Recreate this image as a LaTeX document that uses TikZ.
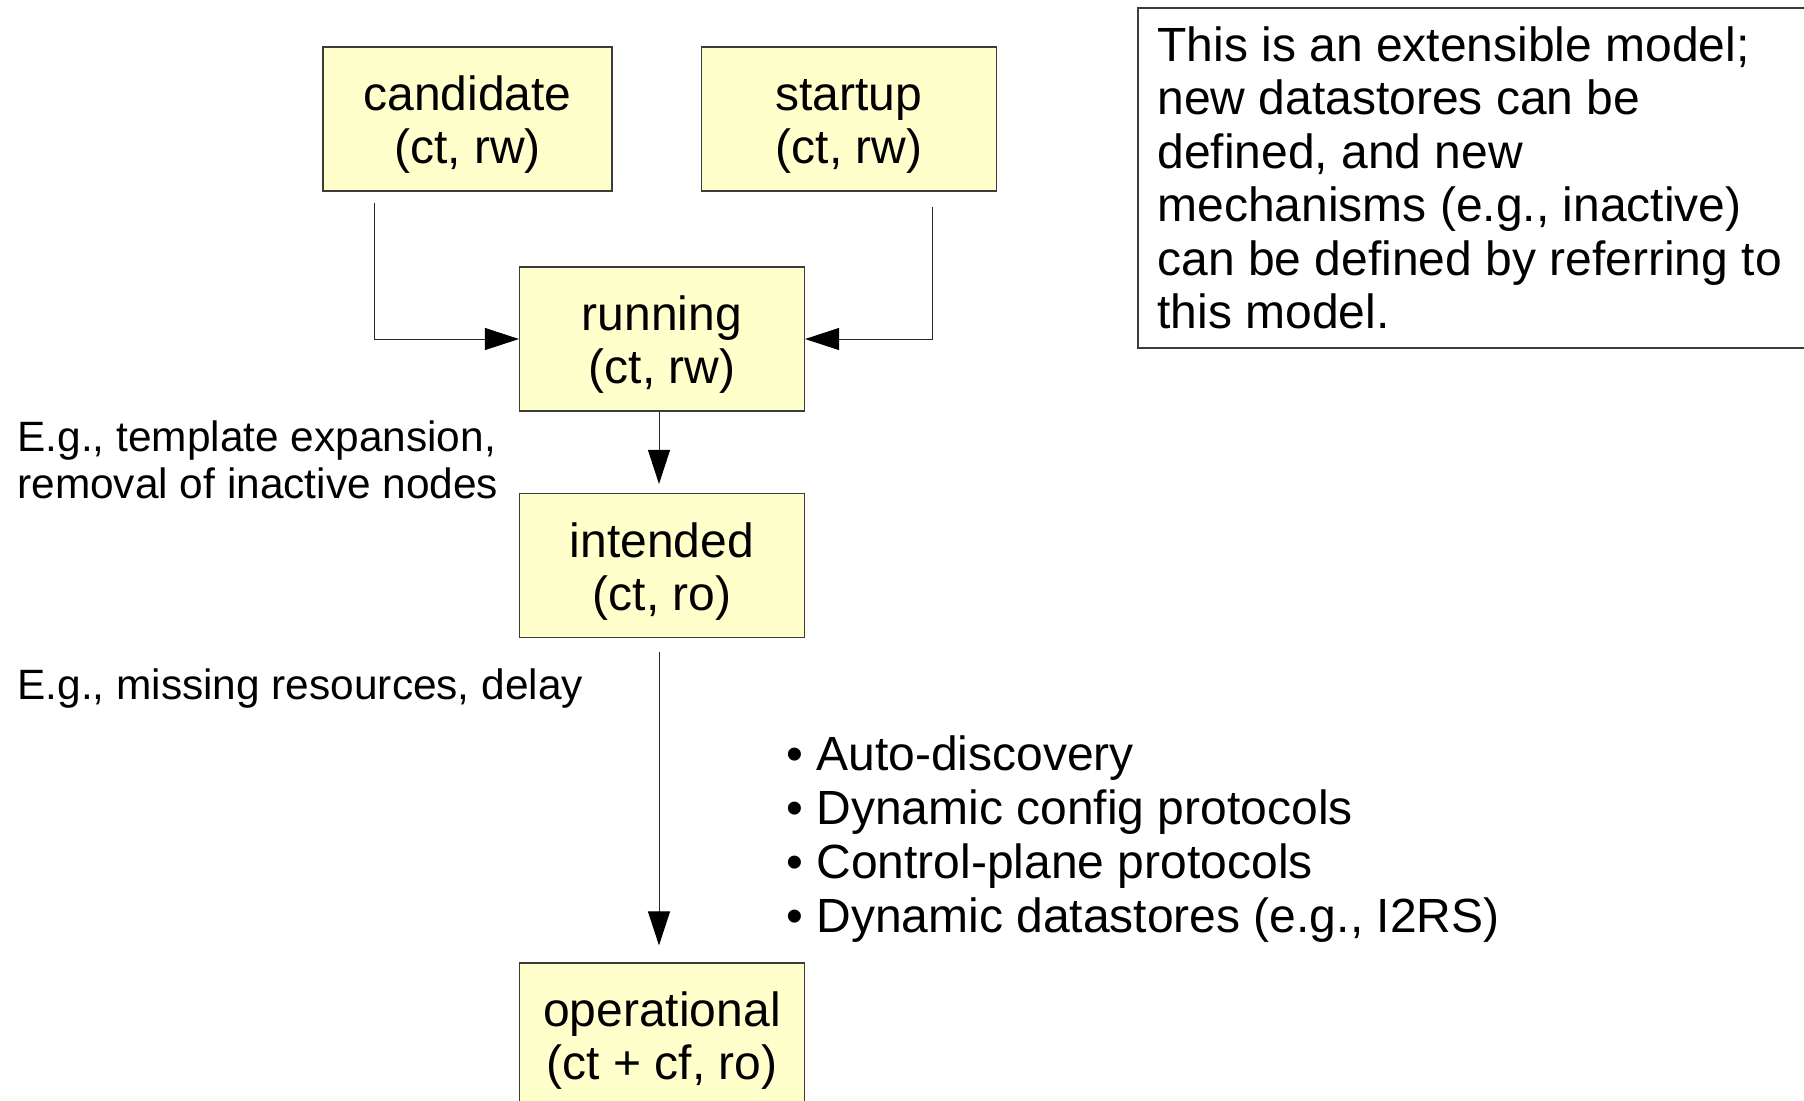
\documentclass[tikz,border=0pt]{standalone}
\usepackage{fontspec}
\setmainfont{Liberation Sans}
\usetikzlibrary{arrows.meta,calc}
\definecolor{storefill}{RGB}{255,255,204}
\definecolor{edgegray}{RGB}{60,60,60}
\definecolor{linegray}{RGB}{40,40,40}

\begin{document}
\begin{tikzpicture}[x=0.5pt,y=-0.5pt,
  dstore/.style={draw=edgegray, line width=0.6pt, fill=storefill, rectangle,
    inner sep=0pt, minimum height=72pt, text height=8.75pt, text depth=17.25pt,
    font=\fontsize{24pt}{26.5pt}\selectfont},
  flow/.style={draw=linegray, line width=0.5pt,
    -{Triangle[length=17pt,width=11pt,color=black]}},
  remark/.style={inner sep=0pt, anchor=base west,
    font=\fontsize{21.2pt}{23.5pt}\selectfont},
  bigtext/.style={inner sep=0pt, anchor=base west,
    font=\fontsize{24pt}{27pt}\selectfont},
  notetext/.style={inner sep=0pt, anchor=base west,
    font=\fontsize{24pt}{26.75pt}\selectfont},
  noteframe/.style={draw=edgegray, line width=0.6pt}
]
\useasboundingbox (0,0) rectangle (1804,1100);
\clip (0,0) rectangle (1804,1100);

% datastores
\node[dstore, minimum width=144.5pt] (cand) at (467.5,119)
  {\begin{tabular}[t]{@{}c@{}}candidate\\(ct, rw)\end{tabular}};
\node[dstore, minimum width=147.5pt] (start) at (849,119)
  {\begin{tabular}[t]{@{}c@{}}startup\\(ct, rw)\end{tabular}};
\node[dstore, minimum width=142.5pt] (run) at (662,339)
  {\begin{tabular}[t]{@{}c@{}}running\\(ct, rw)\end{tabular}};
\node[dstore, minimum width=142.5pt] (int) at (662,565.5)
  {\begin{tabular}[t]{@{}c@{}}intended\\(ct, ro)\end{tabular}};
\node[dstore, minimum width=142.5pt] (op) at (662,1035)
  {\begin{tabular}[t]{@{}c@{}}operational\\(ct + cf, ro)\end{tabular}};

% flows between datastores
\draw[flow] ($(cand.south west)+(52,11)$) |- (run.west);
\draw[flow] ($(start.south east)+(-65,15)$) |- (run.east);
\draw[flow] ($(run.south)+(-3,0)$) -- ($(int.north)+(-3,-9)$);
\draw[flow] ($(int.south)+(-3,14)$) -- ($(op.north)+(-3,-17)$);

% side remarks
\node[remark] (tmpl) at (17,451.5)
  {\begin{tabular}[t]{@{}l@{}}E.g., template expansion,\\removal of inactive nodes\end{tabular}};
\node[remark] (miss) at (17,699.5) {E.g., missing resources, delay};

\node[bigtext] (mech) at (786,770.5)
  {\begin{tabular}[t]{@{}l@{}}• Auto-discovery\\• Dynamic config protocols\\• Control-plane protocols\\• Dynamic datastores (e.g., I2RS)\end{tabular}};

% extensibility note
\draw[noteframe] (1138,8) rectangle (1860,348);
\node[notetext] (ext) at (1157,61)
  {\begin{tabular}[t]{@{}l@{}}This is an extensible model;\\new datastores can be\\defined, and new\\mechanisms (e.g., inactive)\\can be defined by referring to\\this model.\end{tabular}};
\end{tikzpicture}
\end{document}
